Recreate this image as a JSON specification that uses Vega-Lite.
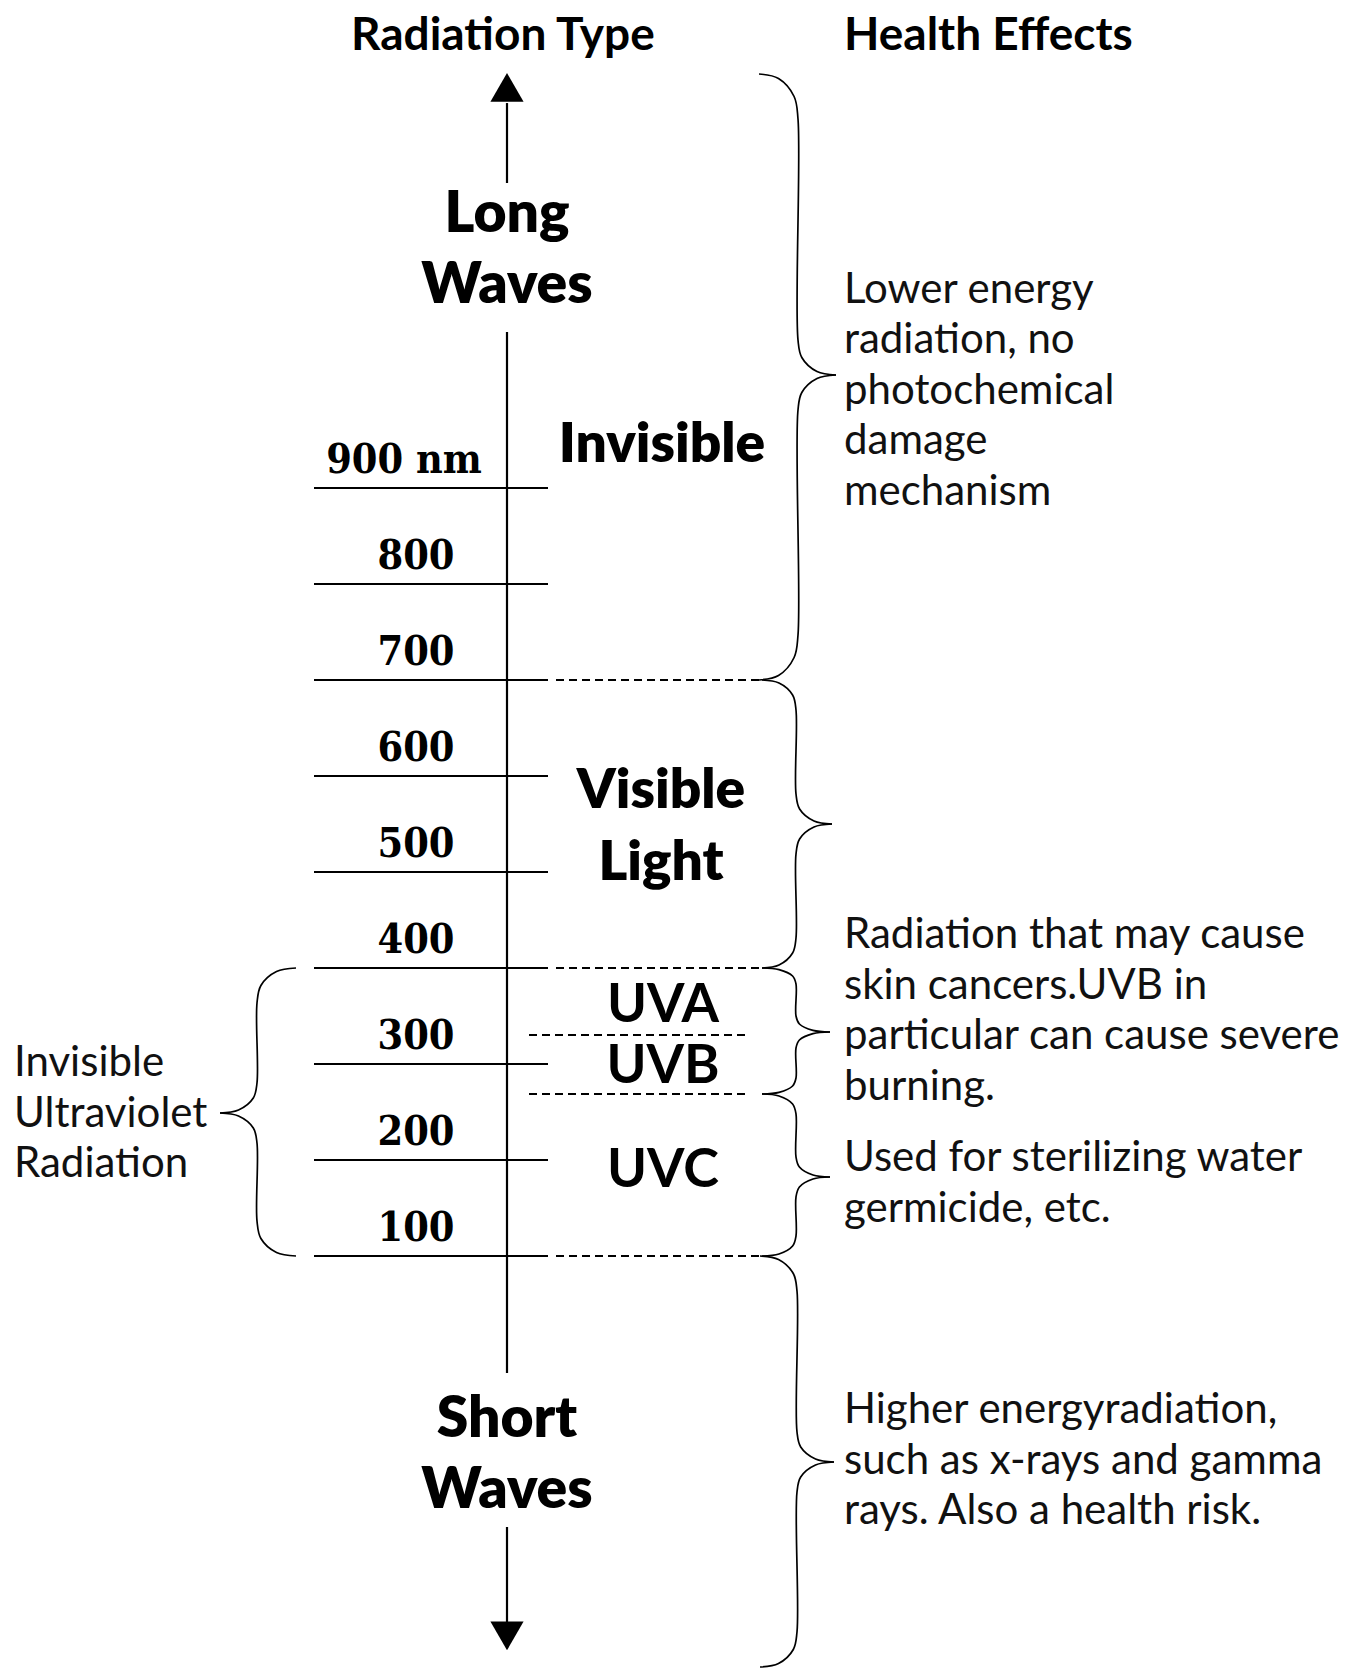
{
  "$schema": "https://vega.github.io/schema/vega-lite/v6.json",
  "width": 1349,
  "height": 1669,
  "autosize": {"type": "none"},
  "padding": 0,
  "background": "#ffffff",
  "config": {"view": {"stroke": null}},
  "datasets": {
    "ticks": [
      {"nm": 900, "label": "900 nm"}, {"nm": 800, "label": "800"}, {"nm": 700, "label": "700"},
      {"nm": 600, "label": "600"}, {"nm": 500, "label": "500"}, {"nm": 400, "label": "400"},
      {"nm": 300, "label": "300"}, {"nm": 200, "label": "200"}, {"nm": 100, "label": "100"}
    ],
    "dashes": [
      {"nm": 700, "x": 556, "x2": 760}, {"nm": 400, "x": 556, "x2": 760},
      {"nm": 330.2, "x": 529, "x2": 748}, {"nm": 268.75, "x": 529, "x2": 750},
      {"nm": 100, "x": 556, "x2": 760}
    ],
    "axisSegs": [
      {"top": 1301, "bottom": 1217.7}, {"top": 1062.5, "bottom": -21.9}, {"top": -182.3, "bottom": -281.25}
    ],
    "arrows": [{"nm": 1317.2, "dir": "up"}, {"nm": -295.8, "dir": "down"}],
    "braces": [
      {"seg": "b1u", "i": 0, "x": 759, "nm": 1331.25}, {"seg": "b1u", "i": 1, "x": 778.5, "nm": 1326.56}, {"seg": "b1u", "i": 2, "x": 794.1, "nm": 1307.81}, {"seg": "b1u", "i": 3, "x": 798, "nm": 1284.38}, {"seg": "b1u", "i": 4, "x": 798, "nm": 1054.17}, {"seg": "b1u", "i": 5, "x": 801.8, "nm": 1035.94}, {"seg": "b1u", "i": 6, "x": 817, "nm": 1021.35}, {"seg": "b1u", "i": 7, "x": 836, "nm": 1017.71},
      {"seg": "b1l", "i": 0, "x": 836, "nm": 1017.71}, {"seg": "b1l", "i": 1, "x": 817, "nm": 1014.06}, {"seg": "b1l", "i": 2, "x": 801.8, "nm": 999.48}, {"seg": "b1l", "i": 3, "x": 798, "nm": 981.25}, {"seg": "b1l", "i": 4, "x": 798, "nm": 746.88}, {"seg": "b1l", "i": 5, "x": 794.1, "nm": 723.44}, {"seg": "b1l", "i": 6, "x": 778.5, "nm": 704.69}, {"seg": "b1l", "i": 7, "x": 759, "nm": 700},
      {"seg": "b2u", "i": 0, "x": 762, "nm": 700}, {"seg": "b2u", "i": 1, "x": 779, "nm": 696.88}, {"seg": "b2u", "i": 2, "x": 792.6, "nm": 684.38}, {"seg": "b2u", "i": 3, "x": 796, "nm": 668.75}, {"seg": "b2u", "i": 4, "x": 796, "nm": 581.25}, {"seg": "b2u", "i": 5, "x": 799.6, "nm": 565.63}, {"seg": "b2u", "i": 6, "x": 814, "nm": 553.13}, {"seg": "b2u", "i": 7, "x": 832, "nm": 550},
      {"seg": "b2l", "i": 0, "x": 832, "nm": 550}, {"seg": "b2l", "i": 1, "x": 814, "nm": 546.88}, {"seg": "b2l", "i": 2, "x": 799.6, "nm": 534.38}, {"seg": "b2l", "i": 3, "x": 796, "nm": 518.75}, {"seg": "b2l", "i": 4, "x": 796, "nm": 431.25}, {"seg": "b2l", "i": 5, "x": 792.6, "nm": 415.63}, {"seg": "b2l", "i": 6, "x": 779, "nm": 403.13}, {"seg": "b2l", "i": 7, "x": 762, "nm": 400},
      {"seg": "b3u", "i": 0, "x": 762, "nm": 400}, {"seg": "b3u", "i": 1, "x": 779, "nm": 398.33}, {"seg": "b3u", "i": 2, "x": 792.6, "nm": 391.67}, {"seg": "b3u", "i": 3, "x": 796, "nm": 383.33}, {"seg": "b3u", "i": 4, "x": 796, "nm": 350}, {"seg": "b3u", "i": 5, "x": 799.4, "nm": 341.67}, {"seg": "b3u", "i": 6, "x": 813, "nm": 335}, {"seg": "b3u", "i": 7, "x": 830, "nm": 333.33},
      {"seg": "b3l", "i": 0, "x": 830, "nm": 333.33}, {"seg": "b3l", "i": 1, "x": 813, "nm": 331.67}, {"seg": "b3l", "i": 2, "x": 799.4, "nm": 325}, {"seg": "b3l", "i": 3, "x": 796, "nm": 316.67}, {"seg": "b3l", "i": 4, "x": 796, "nm": 285.42}, {"seg": "b3l", "i": 5, "x": 792.6, "nm": 277.08}, {"seg": "b3l", "i": 6, "x": 779, "nm": 270.42}, {"seg": "b3l", "i": 7, "x": 762, "nm": 268.75},
      {"seg": "b4u", "i": 0, "x": 762, "nm": 268.75}, {"seg": "b4u", "i": 1, "x": 779, "nm": 266.67}, {"seg": "b4u", "i": 2, "x": 792.6, "nm": 258.33}, {"seg": "b4u", "i": 3, "x": 796, "nm": 247.92}, {"seg": "b4u", "i": 4, "x": 796, "nm": 203.13}, {"seg": "b4u", "i": 5, "x": 799.4, "nm": 192.71}, {"seg": "b4u", "i": 6, "x": 813, "nm": 184.38}, {"seg": "b4u", "i": 7, "x": 830, "nm": 182.29},
      {"seg": "b4l", "i": 0, "x": 830, "nm": 182.29}, {"seg": "b4l", "i": 1, "x": 813, "nm": 180.21}, {"seg": "b4l", "i": 2, "x": 799.4, "nm": 171.88}, {"seg": "b4l", "i": 3, "x": 796, "nm": 161.46}, {"seg": "b4l", "i": 4, "x": 796, "nm": 120.83}, {"seg": "b4l", "i": 5, "x": 792.6, "nm": 110.42}, {"seg": "b4l", "i": 6, "x": 779, "nm": 102.08}, {"seg": "b4l", "i": 7, "x": 762, "nm": 100},
      {"seg": "b5u", "i": 0, "x": 760, "nm": 100}, {"seg": "b5u", "i": 1, "x": 778.5, "nm": 96.35}, {"seg": "b5u", "i": 2, "x": 793.3, "nm": 81.77}, {"seg": "b5u", "i": 3, "x": 797, "nm": 63.54}, {"seg": "b5u", "i": 4, "x": 797, "nm": -83.33}, {"seg": "b5u", "i": 5, "x": 800.7, "nm": -98.96}, {"seg": "b5u", "i": 6, "x": 815.5, "nm": -111.46}, {"seg": "b5u", "i": 7, "x": 834, "nm": -114.58},
      {"seg": "b5l", "i": 0, "x": 834, "nm": -114.58}, {"seg": "b5l", "i": 1, "x": 815.5, "nm": -117.71}, {"seg": "b5l", "i": 2, "x": 800.7, "nm": -130.21}, {"seg": "b5l", "i": 3, "x": 797, "nm": -145.83}, {"seg": "b5l", "i": 4, "x": 797, "nm": -291.67}, {"seg": "b5l", "i": 5, "x": 793.3, "nm": -309.9}, {"seg": "b5l", "i": 6, "x": 778.5, "nm": -324.48}, {"seg": "b5l", "i": 7, "x": 760, "nm": -328.13},
      {"seg": "b6u", "i": 0, "x": 296, "nm": 400}, {"seg": "b6u", "i": 1, "x": 276.5, "nm": 396.35}, {"seg": "b6u", "i": 2, "x": 260.9, "nm": 381.77}, {"seg": "b6u", "i": 3, "x": 257, "nm": 363.54}, {"seg": "b6u", "i": 4, "x": 257, "nm": 280.21}, {"seg": "b6u", "i": 5, "x": 253.3, "nm": 264.58}, {"seg": "b6u", "i": 6, "x": 238.5, "nm": 252.08}, {"seg": "b6u", "i": 7, "x": 220, "nm": 248.96},
      {"seg": "b6l", "i": 0, "x": 220, "nm": 248.96}, {"seg": "b6l", "i": 1, "x": 238.5, "nm": 245.83}, {"seg": "b6l", "i": 2, "x": 253.3, "nm": 233.33}, {"seg": "b6l", "i": 3, "x": 257, "nm": 217.71}, {"seg": "b6l", "i": 4, "x": 257, "nm": 136.46}, {"seg": "b6l", "i": 5, "x": 260.9, "nm": 118.23}, {"seg": "b6l", "i": 6, "x": 276.5, "nm": 103.65}, {"seg": "b6l", "i": 7, "x": 296, "nm": 100}
    ],
    "headers": [
      {"text": "Radiation Type", "x": 351, "nm": 1356.25},
      {"text": "Health Effects", "x": 844, "nm": 1356.25}
    ],
    "waves": [
      {"text": "Long\nWaves", "x": 507, "nm": 1166.67},
      {"text": "Short\nWaves", "x": 507, "nm": -88.54}
    ],
    "regions": [
      {"text": "Invisible", "x": 662, "nm": 927.08},
      {"text": "Visible\nLight", "x": 661, "nm": 566.67}
    ],
    "uv": [
      {"text": "UVA", "x": 663, "nm": 343.75},
      {"text": "UVB", "x": 663, "nm": 280.21},
      {"text": "UVC", "x": 663, "nm": 171.88}
    ],
    "notes": [
      {"text": "Lower energy\nradiation, no\nphotochemical\ndamage\nmechanism", "x": 844, "nm": 1092.71},
      {"text": "Radiation that may cause\nskin cancers.UVB in\nparticular can cause severe\nburning.", "x": 844, "nm": 420.83},
      {"text": "Used for sterilizing water\ngermicide, etc.", "x": 844, "nm": 188.54},
      {"text": "Higher energyradiation,\nsuch as x-rays and gamma\nrays. Also a health risk.", "x": 844, "nm": -73.96},
      {"text": "Invisible\nUltraviolet\nRadiation", "x": 14, "nm": 287.5}
    ]
  },
  "layer": [
    {
      "data": {"name": "ticks"},
      "mark": {"type": "rule", "color": "#000", "strokeWidth": 2},
      "encoding": {
        "x": {"datum": 314, "type": "quantitative", "scale": {"domain": [0, 1349], "nice": false, "zero": false}, "axis": null},
        "x2": {"datum": 548},
        "y": {"field": "nm", "type": "quantitative", "scale": {"domain": [-330.2, 1408.33], "nice": false, "zero": false}, "axis": null}
      }
    },
    {
      "data": {"name": "ticks"},
      "transform": [{"filter": "datum.nm != 900"}],
      "mark": {"type": "text", "font": "DejaVu Serif Condensed, DejaVu Serif", "fontWeight": "bold", "fontSize": 41, "align": "center", "baseline": "alphabetic", "dy": -15, "color": "#000"},
      "encoding": {
        "x": {"datum": 416, "type": "quantitative"},
        "y": {"field": "nm", "type": "quantitative"},
        "text": {"field": "label"}
      }
    },
    {
      "data": {"name": "ticks"},
      "transform": [{"filter": "datum.nm == 900"}],
      "mark": {"type": "text", "font": "DejaVu Serif Condensed, DejaVu Serif", "fontWeight": "bold", "fontSize": 41, "align": "center", "baseline": "alphabetic", "dy": -15, "color": "#000"},
      "encoding": {
        "x": {"datum": 404, "type": "quantitative"},
        "y": {"field": "nm", "type": "quantitative"},
        "text": {"field": "label"}
      }
    },
    {
      "data": {"name": "dashes"},
      "mark": {"type": "rule", "color": "#000", "strokeWidth": 1.8, "strokeDash": [8, 5]},
      "encoding": {
        "x": {"field": "x", "type": "quantitative"},
        "x2": {"field": "x2"},
        "y": {"field": "nm", "type": "quantitative"}
      }
    },
    {
      "data": {"name": "axisSegs"},
      "mark": {"type": "rule", "color": "#000", "strokeWidth": 2.2},
      "encoding": {
        "x": {"datum": 507, "type": "quantitative"},
        "y": {"field": "top", "type": "quantitative"},
        "y2": {"field": "bottom"}
      }
    },
    {
      "data": {"name": "arrows"},
      "mark": {"type": "point", "filled": true, "color": "#000", "opacity": 1, "size": 1100, "strokeWidth": 0},
      "encoding": {
        "x": {"datum": 507, "type": "quantitative"},
        "y": {"field": "nm", "type": "quantitative"},
        "shape": {"field": "dir", "type": "nominal", "scale": {"domain": ["up", "down"], "range": ["triangle-up", "triangle-down"]}, "legend": null}
      }
    },
    {
      "data": {"name": "braces"},
      "mark": {"type": "line", "color": "#000", "strokeWidth": 1.7, "interpolate": "catmull-rom"},
      "encoding": {
        "x": {"field": "x", "type": "quantitative"},
        "y": {"field": "nm", "type": "quantitative"},
        "detail": {"field": "seg"},
        "order": {"field": "i", "type": "quantitative"}
      }
    },
    {
      "data": {"name": "headers"},
      "mark": {"type": "text", "font": "Lato", "fontWeight": "bold", "fontSize": 46, "align": "left", "baseline": "alphabetic", "color": "#000"},
      "encoding": {
        "x": {"field": "x", "type": "quantitative"},
        "y": {"field": "nm", "type": "quantitative"},
        "text": {"field": "text"}
      }
    },
    {
      "data": {"name": "waves"},
      "mark": {"type": "text", "font": "Lato", "fontWeight": 800, "fontSize": 57, "align": "center", "baseline": "alphabetic", "lineBreak": "\n", "lineHeight": 71, "color": "#000"},
      "encoding": {
        "x": {"field": "x", "type": "quantitative"},
        "y": {"field": "nm", "type": "quantitative"},
        "text": {"field": "text"}
      }
    },
    {
      "data": {"name": "regions"},
      "mark": {"type": "text", "font": "Lato", "fontWeight": 800, "fontSize": 55, "align": "center", "baseline": "alphabetic", "lineBreak": "\n", "lineHeight": 72, "color": "#000"},
      "encoding": {
        "x": {"field": "x", "type": "quantitative"},
        "y": {"field": "nm", "type": "quantitative"},
        "text": {"field": "text"}
      }
    },
    {
      "data": {"name": "uv"},
      "mark": {"type": "text", "font": "Lato", "fontWeight": "bold", "fontSize": 54, "align": "center", "baseline": "alphabetic", "color": "#000"},
      "encoding": {
        "x": {"field": "x", "type": "quantitative"},
        "y": {"field": "nm", "type": "quantitative"},
        "text": {"field": "text"}
      }
    },
    {
      "data": {"name": "notes"},
      "mark": {"type": "text", "font": "Lato", "fontWeight": "normal", "fontSize": 42, "align": "left", "baseline": "alphabetic", "lineBreak": "\n", "lineHeight": 50.5, "color": "#111"},
      "encoding": {
        "x": {"field": "x", "type": "quantitative"},
        "y": {"field": "nm", "type": "quantitative"},
        "text": {"field": "text"}
      }
    }
  ]
}
